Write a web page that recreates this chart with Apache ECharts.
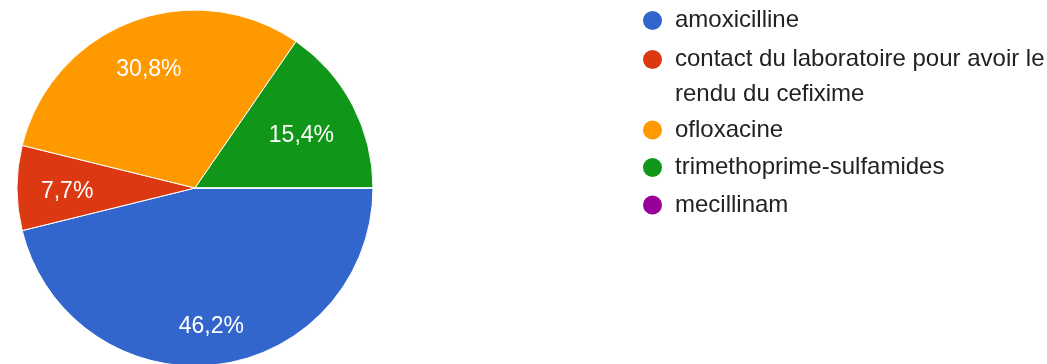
<!DOCTYPE html>
<html>
<head>
<meta charset="utf-8">
<script src="https://cdn.jsdelivr.net/npm/echarts@6/dist/echarts.min.js"></script>
<style>
  html, body { margin: 0; padding: 0; background: #ffffff; }
  #chart { width: 1047px; height: 364px; }
</style>
</head>
<body>
<div id="chart"></div>
<script>
// Réponses (nombre de répondants par antibiotique)
const categories = [
  'amoxicilline',
  'contact du laboratoire pour avoir le rendu du cefixime',
  'ofloxacine',
  'trimethoprime-sulfamides',
  'mecillinam'
];
const counts = [6, 1, 4, 2, 0];
const sliceColors = ['#3366cc', '#dc3912', '#ff9900', '#109618', '#990099'];

const FONT = '"Liberation Sans", Arial, sans-serif';
const CX = 195, CY = 188, R = 178;
const total = counts.reduce((a, b) => a + b, 0);

function pctText(v) {
  return (v / total * 100).toFixed(1).replace('.', ',') + '%';
}

// Mid angle of each slice (screen coords, clockwise from 3 o'clock)
const midAngles = [];
(function () {
  let acc = 0;
  counts.forEach(v => {
    midAngles.push(2 * Math.PI * (acc + v / 2) / total);
    acc += v;
  });
})();

// Push each percentage label out along its slice bisector until the
// label box's outermost corner sits at a fixed distance from the centre.
const LABEL_REACH = R * 0.868;
const LABEL_BASELINE_NUDGE = 3.5;
function placeLabel(p) {
  const a = midAngles[p.dataIndex];
  const ux = Math.cos(a), uy = Math.sin(a);
  const w = p.labelRect.width, h = p.labelRect.height;
  const b = Math.abs(ux) * w + Math.abs(uy) * h;
  const c = (w * w + h * h) / 4 - LABEL_REACH * LABEL_REACH;
  const d = (-b + Math.sqrt(b * b - 4 * c)) / 2;
  return {
    x: CX + d * ux,
    y: CY + d * uy + LABEL_BASELINE_NUDGE,
    align: 'center',
    verticalAlign: 'middle'
  };
}

// Legend: one line per entry, long names wrap onto a second line.
// The wrapped entry is the last of the first block so that the block
// below can start after its second line.
const LINE_H = 35;
const LEGEND_LEFT = 641;
const LEGEND_TOP = 3;
const GAP_TOP = 4;
const GAP_BOTTOM = 2.5;
const splitAt = 2;

function legendEntry(name) {
  if (name.length > 40) {
    // keep the first line level with its marker
    return { name: name, textStyle: { padding: [0, 0, -LINE_H, 0] } };
  }
  return { name: name };
}

const legendCommon = {
  orient: 'vertical',
  left: LEGEND_LEFT,
  padding: 0,
  itemWidth: 35,
  itemHeight: 21,
  icon: 'circle',
  selectedMode: false,
  textStyle: {
    fontFamily: FONT,
    fontSize: 24,
    color: '#222222',
    lineHeight: LINE_H,
    width: 378,
    overflow: 'break',
    rich: { t: {} }
  }
};

const chart = echarts.init(document.getElementById('chart'), null, { renderer: 'canvas' });

chart.setOption({
  animation: false,
  color: sliceColors,
  legend: [
    Object.assign({}, legendCommon, {
      top: LEGEND_TOP,
      itemGap: GAP_TOP,
      data: categories.slice(0, splitAt).map(legendEntry)
    }),
    Object.assign({}, legendCommon, {
      top: LEGEND_TOP + splitAt * LINE_H + GAP_TOP + LINE_H + 0.5,
      itemGap: GAP_BOTTOM,
      data: categories.slice(splitAt).map(legendEntry)
    })
  ],
  series: [{
    type: 'pie',
    center: [CX, CY],
    radius: R,
    startAngle: 0,
    clockwise: true,
    avoidLabelOverlap: false,
    silent: true,
    data: categories.map((name, i) => ({ name: name, value: counts[i] })),
    itemStyle: { borderColor: '#ffffff', borderWidth: 1 },
    emphasis: { disabled: true },
    labelLine: { show: false },
    label: {
      show: true,
      position: 'inside',
      color: '#ffffff',
      fontFamily: FONT,
      fontSize: 23,
      formatter: p => (p.value > 0 ? pctText(p.value) : '')
    },
    labelLayout: placeLabel
  }]
});
</script>
</body>
</html>
